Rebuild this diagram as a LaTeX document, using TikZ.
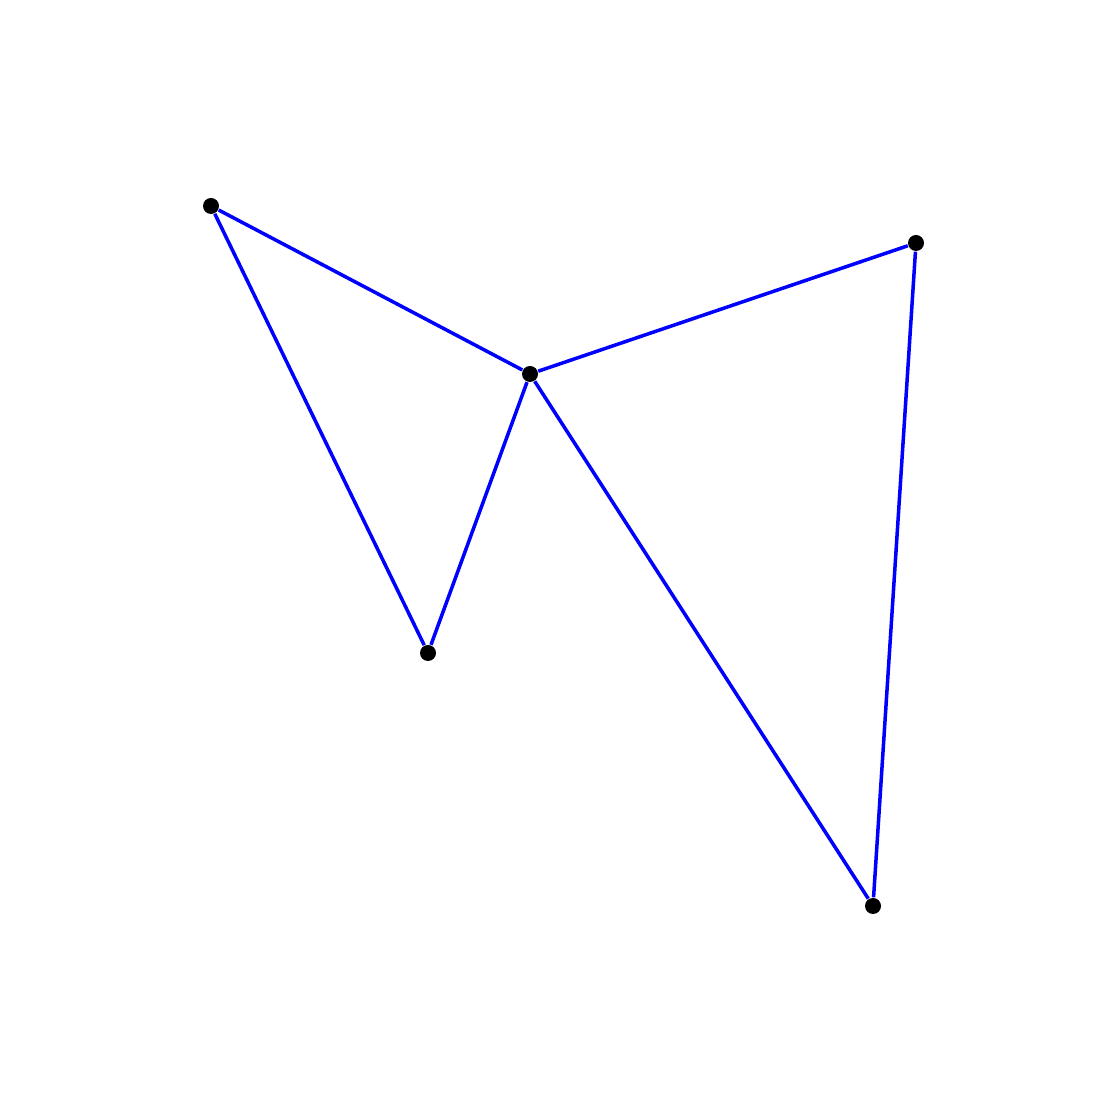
\documentclass[tikz,border=0pt]{standalone}
\usepackage{tikz}
\usetikzlibrary{positioning}

\begin{document}
\begin{tikzpicture}[
    x=1cm, y=1cm,
    vertex/.style={circle, fill=black, inner sep=0pt, minimum size=0.16cm},
    edge/.style={blue, line width=1pt}
]
\useasboundingbox (0,0) rectangle (11,11);

% Vertices
\node[vertex] (top_left) at (2.11,8.94) {};
\node[vertex] (hub) at (5.30,7.26) {};
\node[vertex] (top_right) at (9.16,8.57) {};
\node[vertex] (low_mid) at (4.28,4.47) {};
\node[vertex] (bottom_right) at (8.73,1.94) {};

% Edges
\draw[edge] (top_left) -- (hub);
\draw[edge] (top_left) -- (low_mid);
\draw[edge] (low_mid) -- (hub);
\draw[edge] (hub) -- (top_right);
\draw[edge] (top_right) -- (bottom_right);
\draw[edge] (hub) -- (bottom_right);
\end{tikzpicture}
\end{document}
